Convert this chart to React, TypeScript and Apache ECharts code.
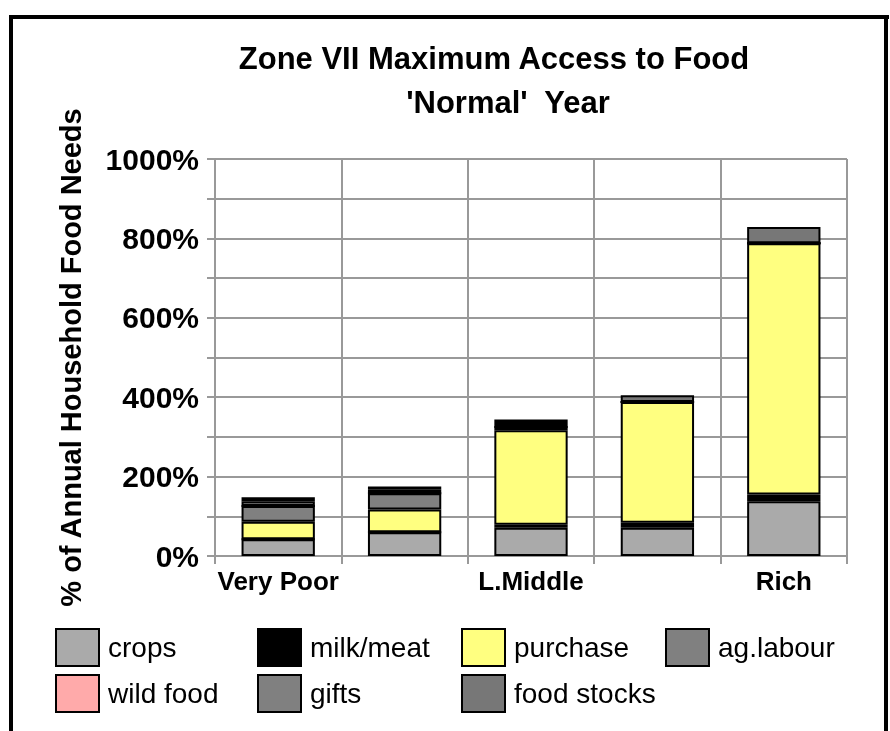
import React, { useEffect, useRef } from "react";
import * as echarts from "echarts";

const categories = ["Very Poor", "Poor", "L.Middle", "U.Middle", "Rich"];
const seriesNames = ["crops", "milk/meat", "purchase", "ag.labour", "wild food", "gifts", "food stocks"];
const crops = [42, 60, 71, 71, 138];
const milkMeat = [0, 0, 8, 13, 17];
const purchase = [44, 57, 238, 304, 633];
const agLabour = [40, 41, 8, 0, 0];
const wildFood = [0, 0, 0, 0, 0];
const gifts = [12, 9, 10, 0, 0];
const foodStocks = [10, 8, 9, 17, 41];
const colors = ["#aaaaaa", "#000000", "#ffff80", "#808080", "#ffaaaa", "#808080", "#777777"];
const yTicks = [0, 200, 400, 600, 800, 1000];

const FONT = "'Liberation Sans', Arial, sans-serif";

export default function App() {
  const ref = useRef<HTMLDivElement>(null);
  useEffect(() => {
    if (!ref.current) return;
    const chart = echarts.init(ref.current, null, { renderer: "svg" });
    const values = [crops, milkMeat, purchase, agLabour, wildFood, gifts, foodStocks];
    const legendCols = [55, 257, 461, 665];
    const legendRows = [628, 674];
    const legends = seriesNames.map((n, i) => ({
      data: [n],
      left: legendCols[i % 4],
      top: legendRows[Math.floor(i / 4)],
      itemWidth: 43,
      itemHeight: 37,
      icon: "rect",
      padding: 0,
      itemStyle: { borderColor: "#000", borderWidth: 2 },
      textStyle: { fontSize: 28, color: "#000", fontFamily: FONT, padding: [0, 0, 0, 4] },
      selectedMode: false,
    }));
    chart.setOption({
      animation: false,
      textStyle: { fontFamily: FONT },
      title: [
        {
          text: "Zone VII Maximum Access to Food",
          left: 489,
          top: 38,
          textAlign: "center",
          textStyle: { fontSize: 31, fontWeight: "bold", color: "#000", fontFamily: FONT },
        },
        {
          text: "'Normal'  Year",
          left: 503,
          top: 82,
          textAlign: "center",
          textStyle: { fontSize: 31, fontWeight: "bold", color: "#000", fontFamily: FONT },
        },
      ],
      legend: legends,
      grid: { left: 215, right: 43, top: 159, bottom: 175, containLabel: false },
      xAxis: {
        type: "category",
        data: categories,
        axisLine: { lineStyle: { color: "#999", width: 2 } },
        axisTick: { show: true, interval: 0, length: 8, lineStyle: { color: "#999", width: 2 } },
        splitLine: { show: true, interval: 0, lineStyle: { color: "#999", width: 2 } },
        axisLabel: { interval: 1, fontSize: 26, fontWeight: "bold", color: "#000", margin: 12, fontFamily: FONT },
      },
      yAxis: {
        type: "value",
        min: 0,
        max: 1000,
        interval: 100,
        name: "% of Annual Household Food Needs",
        nameLocation: "middle",
        nameGap: 130,
        nameTextStyle: { fontSize: 29, fontWeight: "bold", color: "#000", fontFamily: FONT },
        axisLine: { show: true, lineStyle: { color: "#999", width: 2 } },
        axisTick: { show: true, length: 8, lineStyle: { color: "#999", width: 2 } },
        splitLine: { show: true, lineStyle: { color: "#999", width: 2 } },
        axisLabel: {
          fontSize: 30,
          fontWeight: "bold",
          color: "#000",
          margin: 16,
          fontFamily: FONT,
          formatter: (v: number) => (yTicks.includes(v) ? v + "%" : ""),
        },
      },
      graphic: [
        { type: "rect", shape: { x: 9, y: 15, width: 880, height: 4 }, style: { fill: "#000" } },
        { type: "rect", shape: { x: 9, y: 15, width: 4, height: 716 }, style: { fill: "#000" } },
        { type: "rect", shape: { x: 884, y: 15, width: 4, height: 716 }, style: { fill: "#000" } },
      ],
      series: seriesNames.map((n, i) => ({
        name: n,
        type: "bar",
        stack: "total",
        barWidth: "58%",
        data: values[i],
        itemStyle: { color: colors[i], borderColor: "#000", borderWidth: 2 },
        emphasis: { disabled: true },
      })),
    });
    return () => chart.dispose();
  }, []);
  return <div ref={ref} style={{ position: "fixed", left: 0, top: 0, width: 890, height: 731 }} />;
}
